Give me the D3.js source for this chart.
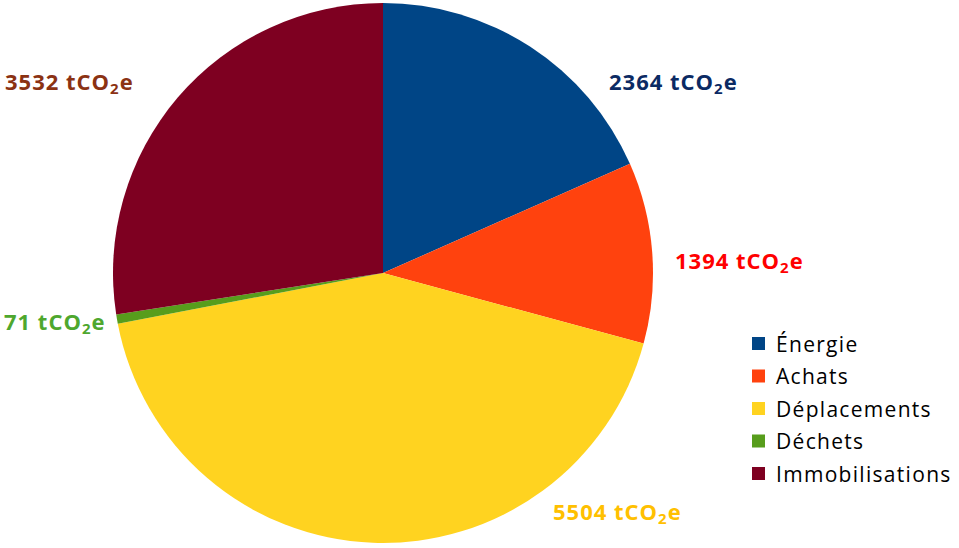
<!DOCTYPE html>
<html><head><meta charset="utf-8">
<script src="https://cdn.jsdelivr.net/npm/d3@7"></script>
<style>body{margin:0;background:#fff}svg{display:block}text{font-family:"Open Sans",sans-serif}</style>
</head><body>
<svg id="c" width="959" height="548"></svg>
<script>
const categories = ["Énergie", "Achats", "Déplacements", "Déchets", "Immobilisations"];
const values = [2364, 1394, 5504, 71, 3532];
const sliceColors = ["#004586", "#ff420e", "#ffd320", "#579d1c", "#7e0021"];
const labelColors = ["#0b2a63", "#ff0000", "#ffc000", "#4ea72e", "#8b3213"];
const unit = "tCO";

const svg = d3.select("#c");
const cx = 383, cy = 273, R = 270;
const g = svg.append("g").attr("transform", `translate(${cx},${cy})`);
const pie = d3.pie().sort(null).value(d => d)(values);
const arc = d3.arc().innerRadius(0).outerRadius(R);
g.selectAll("path").data(pie).enter().append("path")
  .attr("d", arc).attr("fill", (d, i) => sliceColors[i]);

// label offsets (layout) relative to pie center
const labelPos = [[226, -183], [292, -4], [170, 247], [-379, 57], [-378, -183]];
const lab = svg.append("g");
pie.forEach((d, i) => {
  const t = lab.append("text")
    .attr("x", cx + labelPos[i][0]).attr("y", cy + labelPos[i][1])
    .attr("fill", labelColors[i]).attr("font-weight", "bold").attr("font-size", 22)
    .attr("letter-spacing", 1);
  t.append("tspan").text(values[i] + " " + unit);
  t.append("tspan").text("2").attr("font-size", 15).attr("dy", 4);
  t.append("tspan").text("e").attr("dy", -4);
});

const leg = svg.append("g").attr("transform", "translate(752,337)");
categories.forEach((c, i) => {
  const row = leg.append("g").attr("transform", `translate(0,${i * 32.5})`);
  row.append("rect").attr("width", 13).attr("height", 13).attr("fill", sliceColors[i]);
  row.append("text").attr("x", 24).attr("y", 14.5).attr("font-size", 21)
    .attr("letter-spacing", 1.3).attr("fill", "#000").text(c);
});
</script>
</body></html>
